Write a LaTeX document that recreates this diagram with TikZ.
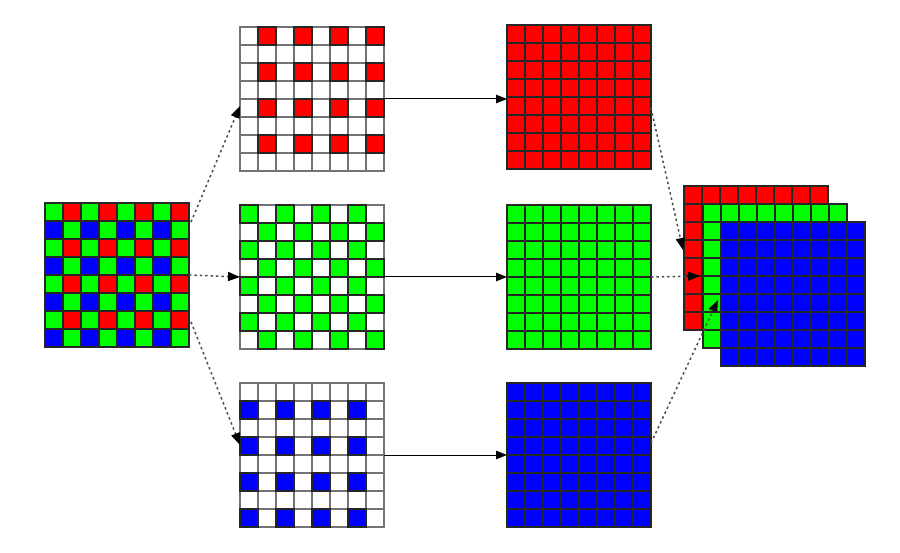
\documentclass[tikz,border=0pt]{standalone}
\usetikzlibrary{arrows.meta}
\definecolor{cr}{RGB}{255,0,0}
\definecolor{cg}{RGB}{0,255,0}
\definecolor{cb}{RGB}{0,0,255}
\tikzset{
  gridbox/.style={draw=none, minimum size=144pt, inner sep=0pt, outer sep=0pt},
  colcell/.style={draw=black!85, line width=1.4pt},
  whitecell/.style={fill=white, draw=black!55, line width=1.4pt},
  dasharrow/.style={draw=black!70, line width=1.5pt, dash pattern=on 2.4pt off 3pt,
    -{Triangle[length=12pt,width=9pt,color=black,fill=black]}},
  solidarrow/.style={draw=black, line width=1pt,
    -{Triangle[length=11pt,width=8.5pt]}}
}
% full grid of one colour: #1 = colour, #2 = x0, #3 = y0
\newcommand{\fullgrid}[3]{%
  \foreach \r in {0,...,7}{\foreach \c in {0,...,7}{%
    \filldraw[colcell, fill=#1] ({#2+\c*18},{#3+\r*18}) rectangle +(18,18);}}}
\begin{document}
\begin{tikzpicture}[x=1pt,y=-1pt]
\useasboundingbox (0,0) rectangle (900,553);
\fill[white] (0,0) rectangle (900,553);

% ---------- nodes (anchor holders) ----------
\node[gridbox] (bayer)   at (117,275) {};
\node[gridbox] (redsp)   at (312,99)  {};
\node[gridbox] (greensp) at (312,277) {};
\node[gridbox] (bluesp)  at (312,455) {};
\node[gridbox] (redfull)   at (579,97)  {};
\node[gridbox] (greenfull) at (579,277) {};
\node[gridbox] (bluefull)  at (579,455) {};
\node[gridbox] (stackred)   at (756,258) {};
\node[gridbox] (stackgreen) at (775,276) {};
\node[gridbox] (stackblue)  at (793,294) {};

% ---------- Bayer mosaic ----------
\foreach \r in {0,...,7}{\foreach \c in {0,...,7}{%
  \pgfmathtruncatemacro\pr{mod(\r,2)}%
  \pgfmathtruncatemacro\pc{mod(\c,2)}%
  \ifnum\pr=0 \ifnum\pc=1 \def\cc{cr}\else\def\cc{cg}\fi
  \else \ifnum\pc=0 \def\cc{cb}\else\def\cc{cg}\fi\fi
  \filldraw[colcell, fill=\cc] ({45+\c*18},{203+\r*18}) rectangle +(18,18);}}

% ---------- sparse grids ----------
\foreach \y in {27,205,383}{
  \foreach \r in {0,...,7}{\foreach \c in {0,...,7}{%
    \filldraw[whitecell] ({240+\c*18},{\y+\r*18}) rectangle +(18,18);}}}
% red: even rows, odd columns
\foreach \r in {0,2,4,6}{\foreach \c in {1,3,5,7}{%
  \filldraw[colcell, fill=cr] ({240+\c*18},{27+\r*18}) rectangle +(18,18);}}
% green: (r+c) even
\foreach \r in {0,...,7}{\foreach \c in {0,...,7}{%
  \pgfmathtruncatemacro\pp{mod(\r+\c,2)}%
  \ifnum\pp=0 \filldraw[colcell, fill=cg] ({240+\c*18},{205+\r*18}) rectangle +(18,18);\fi}}
% blue: odd rows, even columns
\foreach \r in {1,3,5,7}{\foreach \c in {0,2,4,6}{%
  \filldraw[colcell, fill=cb] ({240+\c*18},{383+\r*18}) rectangle +(18,18);}}

% ---------- full grids ----------
\fullgrid{cr}{507}{25}
\fullgrid{cg}{507}{205}
\fullgrid{cb}{507}{383}

% ---------- stack ----------
\fullgrid{cr}{684}{186}
\fullgrid{cg}{703}{204}
\fullgrid{cb}{721}{222}

% ---------- connectors ----------
\draw[dasharrow] ([xshift=2pt,yshift=-19pt]bayer.north east) -- ([yshift=-7pt]redsp.west);
\draw[dasharrow] (bayer.east) -- (greensp.west);
\draw[dasharrow] ([xshift=2pt,yshift=25pt]bayer.south east) -- ([yshift=10pt]bluesp.west);

\draw[solidarrow] (redsp.east) -- (redsp.east -| redfull.west);
\draw[solidarrow] (greensp.east) -- (greenfull.west);
\draw[solidarrow] (bluesp.east) -- (bluefull.west);

\draw[dasharrow] ([yshift=-11pt]redfull.east) -- ([xshift=-1pt,yshift=8pt]stackred.west);
\draw[dasharrow] (greenfull.east) -- ([xshift=-3pt]stackgreen.west);
\draw[dasharrow] ([yshift=12pt]bluefull.east) -- ([xshift=-3pt,yshift=-6pt]stackblue.west);
\end{tikzpicture}
\end{document}
